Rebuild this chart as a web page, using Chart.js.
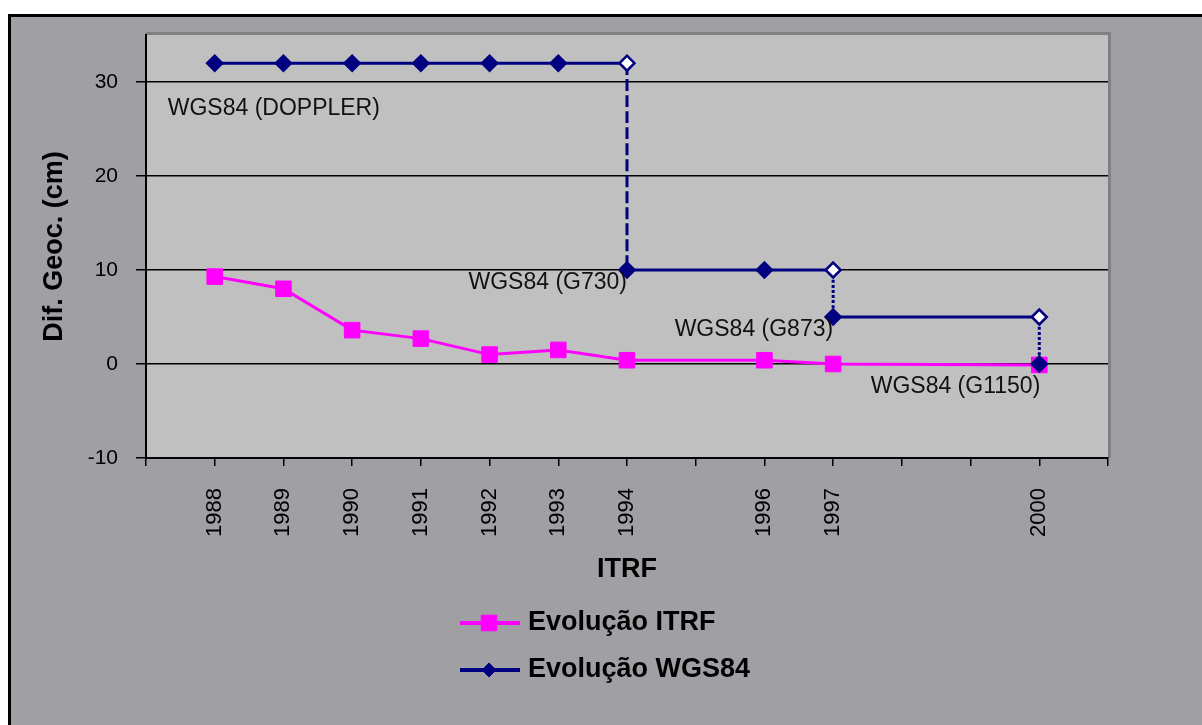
<!DOCTYPE html>
<html>
<head>
<meta charset="utf-8">
<script src="https://cdn.jsdelivr.net/npm/chart.js@4/dist/chart.umd.min.js"></script>
<style>
  html, body { margin: 0; padding: 0; background: #fff; }
  #wrap { width: 1202px; height: 725px; }
</style>
</head>
<body>
<div id="wrap"><canvas id="geoChart" width="1202" height="725"></canvas></div>
<script>
// anos com valor no eixo ITRF
const years = [1988, 1989, 1990, 1991, 1992, 1993, 1994, 1996, 1997, 2000];
const itrfValues = [9.3, 8.0, 3.6, 2.7, 1.0, 1.5, 0.4, 0.4, 0.0, -0.1];

// WGS84 em degraus (ano repetido = mudança de realização)
const wgsYears = [1988, 1989, 1990, 1991, 1992, 1993, 1994, 1994, 1996, 1997, 1997, 2000, 2000];
const wgsValues = [32, 32, 32, 32, 32, 32, 32, 10, 10, 10, 5, 5, 0];

// nomes das realizações e onde começam
const realNames = ['WGS84 (DOPPLER)', 'WGS84 (G730)', 'WGS84 (G873)', 'WGS84 (G1150)'];
const realYears = [1988, 1994, 1997, 2000];
const realValues = [32, 10, 5, 0];

const yTicks = [-10, 0, 10, 20, 30];

document.addEventListener('DOMContentLoaded', function() {
    const FONT = "'Liberation Sans', Arial, sans-serif";
    Chart.defaults.font.family = FONT;
    Chart.defaults.color = '#000';

    const navy = '#000080';
    const magenta = '#ff00ff';

    // ponto vazio = fim de uma realização (o próximo ponto tem o mesmo ano)
    const wgsFill = wgsYears.map((y, i) => (i < wgsYears.length - 1 && wgsYears[i + 1] === y) ? '#ffffff' : navy);

    const backgroundPlugin = {
        id: 'bg',
        beforeDraw(chart) {
            const ctx = chart.ctx;
            const a = chart.chartArea;
            ctx.save();
            ctx.fillStyle = '#ffffff';
            ctx.fillRect(0, 0, chart.width, chart.height);
            ctx.fillStyle = '#a09fa4';
            ctx.fillRect(9, 15, chart.width - 9, chart.height - 15);
            ctx.strokeStyle = '#000';
            ctx.lineWidth = 3;
            ctx.beginPath();
            ctx.moveTo(9.5, chart.height);
            ctx.lineTo(9.5, 15.5);
            ctx.lineTo(chart.width, 15.5);
            ctx.stroke();
            // area do grafico
            ctx.fillStyle = '#c0c0c0';
            ctx.fillRect(a.left, a.top, a.right - a.left, a.bottom - a.top);
            ctx.strokeStyle = '#808080';
            ctx.lineWidth = 3;
            ctx.beginPath();
            ctx.moveTo(a.left, a.top - 1.5);
            ctx.lineTo(a.right + 1.5, a.top - 1.5);
            ctx.lineTo(a.right + 1.5, a.bottom);
            ctx.stroke();
            ctx.restore();
        }
    };

    // rotulos das realizacoes WGS84
    const labelOffsets = [[-47, 45, 'left'], [0, 13, 'right'], [0, 13, 'right'], [1, 23, 'right']];
    const realLabelsPlugin = {
        id: 'realLabels',
        afterDatasetsDraw(chart) {
            const ctx = chart.ctx;
            const xs = chart.scales.x, ys = chart.scales.y;
            ctx.save();
            ctx.font = '23px ' + FONT;
            ctx.fillStyle = '#111';
            ctx.textBaseline = 'middle';
            realNames.forEach((name, i) => {
                const off = labelOffsets[i];
                ctx.textAlign = off[2];
                ctx.fillText(name, xs.getPixelForValue(realYears[i]) + off[0], ys.getPixelForValue(realValues[i]) + off[1]);
            });
            ctx.restore();
        }
    };

    // legenda vertical, como no Excel
    const legendPlugin = {
        id: 'vLegend',
        afterDraw(chart) {
            const ctx = chart.ctx;
            const sets = chart.data.datasets;
            ctx.save();
            sets.forEach((ds, i) => {
                const y = 623 + i * 47;
                ctx.strokeStyle = ds.borderColor;
                ctx.lineWidth = 4;
                ctx.beginPath();
                ctx.moveTo(460, y);
                ctx.lineTo(520, y);
                ctx.stroke();
                ctx.fillStyle = ds.borderColor;
                ctx.lineWidth = 1;
                Chart.helpers.drawPoint(ctx, {
                    pointStyle: ds.pointStyle,
                    radius: ds.pointStyle === 'rect' ? 11 : 7,
                    rotation: 0,
                    borderWidth: 1
                }, 489, y);
                ctx.fillStyle = '#000';
                ctx.font = 'bold 27px ' + FONT;
                ctx.textAlign = 'left';
                ctx.textBaseline = 'middle';
                ctx.fillText(ds.label, 528, y);
            });
            ctx.restore();
        }
    };

    // queda vertical entre realizações: tracejado (longo na queda grande, miúdo nas pequenas)
    function dropDash(c) {
        if (c.p0.parsed.x !== c.p1.parsed.x) return undefined;
        return Math.abs(c.p0.parsed.y - c.p1.parsed.y) > 10 ? [12, 4] : [3, 2];
    }

    const ctx = document.getElementById('geoChart').getContext('2d');
    new Chart(ctx, {
        type: 'line',
        data: {
            datasets: [{
                label: 'Evolução ITRF',
                data: years.map((x, i) => ({ x: x, y: itrfValues[i] })),
                borderColor: magenta,
                backgroundColor: magenta,
                borderWidth: 3,
                pointStyle: 'rect',
                pointRadius: 11,
                pointHoverRadius: 11,
                pointBorderWidth: 1,
                pointBackgroundColor: magenta,
                order: 2
            }, {
                label: 'Evolução WGS84',
                data: wgsYears.map((x, i) => ({ x: x, y: wgsValues[i] })),
                borderColor: navy,
                backgroundColor: navy,
                borderWidth: 3,
                // tensao minima: evita o "fast path" que junta pontos com o mesmo x e estraga o tracejado
                tension: 0.0001,
                pointStyle: 'rectRot',
                pointRadius: 7.5,
                pointHoverRadius: 7.5,
                pointBorderWidth: 2.5,
                pointBorderColor: navy,
                pointBackgroundColor: wgsFill,
                segment: {
                    borderDash: dropDash
                },
                order: 1
            }]
        },
        options: {
            responsive: false,
            animation: false,
            layout: { padding: { left: 9, top: 35, right: 94, bottom: 127 } },
            plugins: {
                legend: { display: false },
                tooltip: { enabled: false }
            },
            scales: {
                x: {
                    type: 'linear',
                    min: 1987,
                    max: 2001,
                    afterFit: function(scale) { scale.height = 140; },
                    ticks: {
                        stepSize: 1,
                        autoSkip: false,
                        minRotation: 90,
                        maxRotation: 90,
                        padding: 22,
                        color: '#000',
                        font: { size: 22 },
                        callback: function(value) {
                            return years.includes(value) ? String(value) : '';
                        }
                    },
                    grid: { drawOnChartArea: false, drawTicks: true, tickLength: 8, color: '#000', lineWidth: 1.5 },
                    border: { display: true, color: '#000', width: 2 },
                    title: {
                        display: true,
                        text: 'ITRF',
                        color: '#000',
                        font: { size: 27, weight: 'bold' },
                        padding: { top: 0, bottom: 12 }
                    }
                },
                y: {
                    min: -10,
                    max: 35,
                    afterFit: function(scale) { scale.width = 137; },
                    afterBuildTicks: function(scale) {
                        scale.ticks = yTicks.map(v => ({ value: v }));
                    },
                    ticks: {
                        padding: 18,
                        color: '#000',
                        font: { size: 21 }
                    },
                    grid: { color: '#000', lineWidth: 1.5, tickLength: 10 },
                    border: { display: true, color: '#000', width: 2 },
                    title: {
                        display: true,
                        text: 'Dif. Geoc. (cm)',
                        color: '#000',
                        font: { size: 27, weight: 'bold' },
                        padding: { top: 29, bottom: 0 }
                    }
                }
            }
        },
        plugins: [backgroundPlugin, realLabelsPlugin, legendPlugin]
    });
});
</script>
</body>
</html>
